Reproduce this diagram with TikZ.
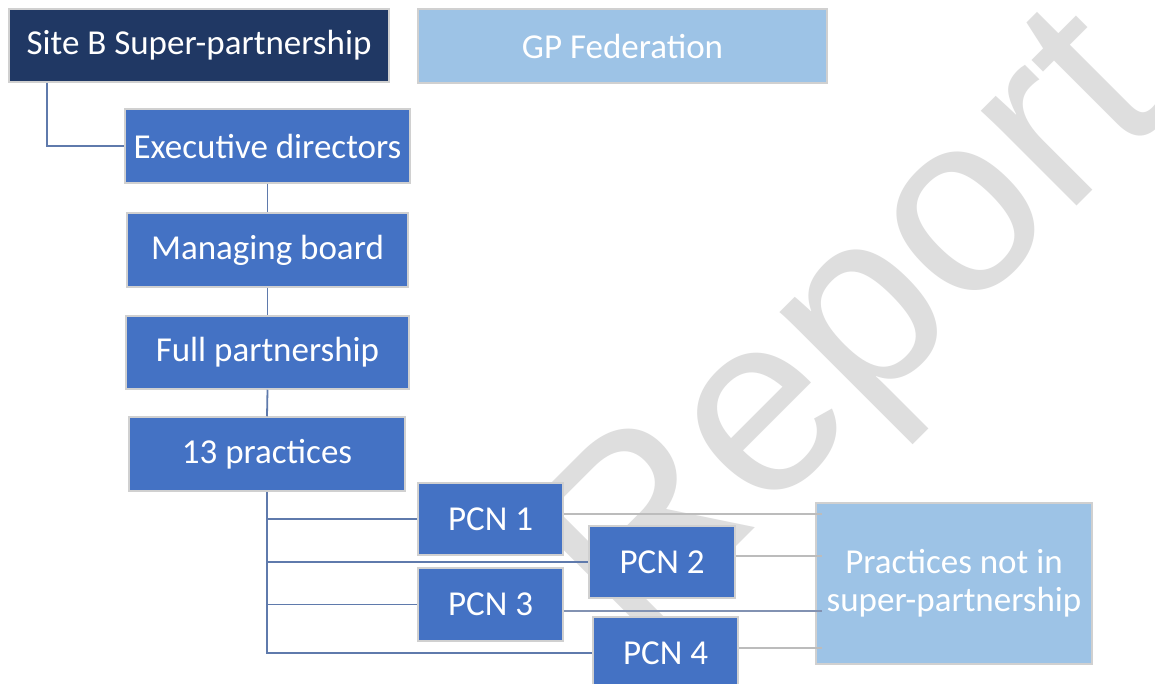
\documentclass[tikz,border=0pt]{standalone}
\usepackage{fontspec}
\setmainfont{Carlito}
\newfontfamily\wmfont{Liberation Sans}
\definecolor{navy}{RGB}{32,56,100}
\definecolor{accentblue}{RGB}{68,114,196}
\definecolor{lightblue}{RGB}{157,195,230}
\definecolor{edgegray}{RGB}{208,208,208}
\definecolor{conn}{RGB}{95,122,172}
\definecolor{connlight}{RGB}{188,188,188}
\definecolor{connmid}{RGB}{130,146,178}
\definecolor{wmark}{RGB}{222,222,222}
\begin{document}
\begin{tikzpicture}[x=1pt,y=-1pt,
  boxbase/.style={draw=edgegray,line width=1.5pt,text=white,inner sep=0pt,
    font=\fontsize{35}{38}\selectfont,align=center},
  boxdark/.style={boxbase,fill=navy},
  boxmid/.style={boxbase,fill=accentblue},
  boxlight/.style={boxbase,fill=lightblue},
  link/.style={draw=conn,line width=1.8pt},
  linkgray/.style={draw=connlight,line width=1.8pt},
  linkmid/.style={draw=connmid,line width=1.8pt},
  wmtext/.style={text=wmark,inner sep=0pt,font=\wmfont\fontsize{255}{255}\selectfont}]
\useasboundingbox (0,0) rectangle (1155,684);
\clip (0,0) rectangle (1155,684);
\fill[white] (0,0) rectangle (1155,684);
% watermark
\node[wmtext,anchor=base west,rotate=45] (wm) at (633,650) {Report};
% boxes
\node[boxdark,minimum width=380pt,minimum height=73pt] (site) at (199,45.5) {Site B Super-partnership};
\node[boxlight,minimum width=409pt,minimum height=74pt] (gp) at (622.5,46) {GP Federation};
\node[boxmid,minimum width=285pt,minimum height=74pt] (exec) at (267.5,146) {Executive directors};
\node[boxmid,minimum width=281pt,minimum height=74pt] (board) at (267.5,250) {Managing board};
\node[boxmid,minimum width=283pt,minimum height=73pt] (full) at (267.5,352.5) {Full partnership};
\node[boxmid,minimum width=276pt,minimum height=74pt] (prac) at (267,454) {13 practices};
\node[boxmid,minimum width=145pt,minimum height=72pt] (pcn1) at (490.5,519) {PCN 1};
\node[boxmid,minimum width=146pt,minimum height=72pt] (pcn2) at (662,562) {PCN 2};
\node[boxmid,minimum width=145pt,minimum height=73pt] (pcn3) at (490.5,604.5) {PCN 3};
\node[boxmid,minimum width=145pt,minimum height=72pt] (pcn4) at (665.5,653) {PCN 4};
\node[boxlight,minimum width=276pt,minimum height=161pt] (notin) at (954,583.5) {Practices not in\\super-partnership};
% connectors
\draw[link] ([xshift=39pt]site.south west) |- (exec.west);
\draw[link] (exec.south) -- (board.north);
\draw[link] (board.south) -- (full.north);
\draw[link] (full.south) -- (prac.north);
\draw[link] (prac.south) |- (pcn4.west);
\draw[link] (prac.south |- pcn1.west) -- (pcn1.west);
\draw[link] (prac.south |- pcn2.west) -- (pcn2.west);
\draw[link] (prac.south |- pcn3.west) -- (pcn3.west);
\coordinate (n1) at ([xshift=7pt]notin.west |- 0,514);
\coordinate (n2) at ([xshift=7pt]notin.west |- 0,556);
\coordinate (n3) at ([xshift=7pt]notin.west |- 0,611);
\coordinate (n4) at ([xshift=7pt]notin.west |- 0,648);
\draw[linkgray] (pcn1.east |- n1) -- (n1);
\draw[linkgray] (pcn2.east |- n2) -- (n2);
\draw[linkmid] (pcn3.east |- n3) -- (n3);
\draw[linkgray] (pcn4.east |- n4) -- (n4);
\end{tikzpicture}
\end{document}
